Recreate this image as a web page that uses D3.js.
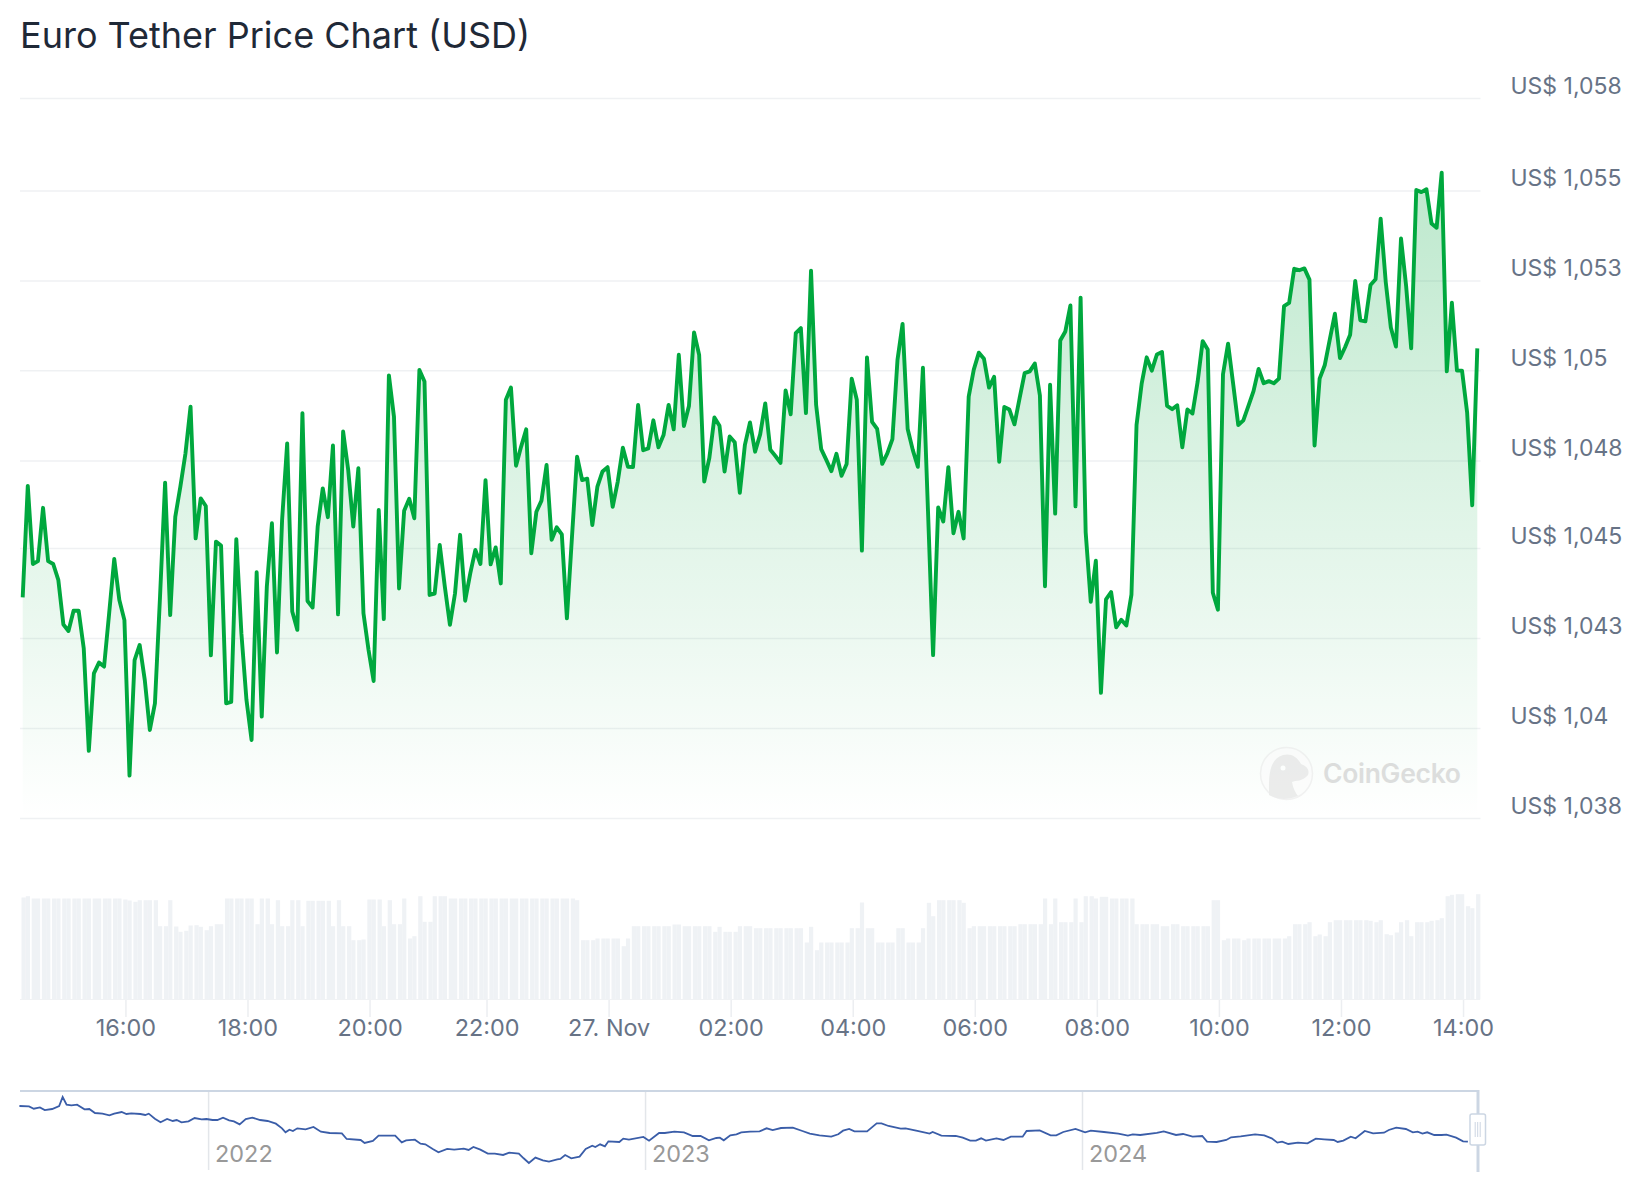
<!DOCTYPE html>
<html>
<head>
<meta charset="utf-8">
<title>Euro Tether Price Chart (USD)</title>
<script src="https://cdn.jsdelivr.net/npm/d3@7"></script>
<style>
  html, body { margin: 0; background: #fff; }
  svg { display: block; font-family: Inter, sans-serif; }
</style>
</head>
<body>
<div id="chart"></div>
<script>
// 5 minute prices
var prices = [
  1.04364,1.04674,1.04457,1.04465,1.04613,1.04465,1.04457,1.04413,1.04289,1.04271,
  1.04327,1.04327,1.04223,1.03938,1.04153,1.04183,1.04172,1.04320,1.04471,1.04357,
  1.04301,1.03869,1.04190,1.04232,1.04135,1.03996,1.04070,1.04366,1.04683,1.04315,
  1.04588,1.04672,1.04764,1.04894,1.04528,1.04639,1.04618,1.04203,1.04519,1.04508,
  1.04070,1.04074,1.04526,1.04264,1.04079,1.03968,1.04434,1.04033,1.04394,1.04570,
  1.04211,1.04579,1.04792,1.04325,1.04274,1.04876,1.04354,1.04336,1.04561,1.04667,
  1.04587,1.04786,1.04317,1.04825,1.04718,1.04561,1.04723,1.04320,1.04218,1.04132,
  1.04607,1.04304,1.04981,1.04866,1.04389,1.04605,1.04638,1.04584,1.04996,1.04964,
  1.04371,1.04375,1.04510,1.04394,1.04288,1.04375,1.04538,1.04355,1.04431,1.04496,
  1.04457,1.04690,1.04456,1.04503,1.04403,1.04913,1.04947,1.04730,1.04783,1.04831,
  1.04487,1.04602,1.04633,1.04732,1.04524,1.04559,1.04539,1.04306,1.04533,1.04755,
  1.04690,1.04694,1.04565,1.04672,1.04714,1.04726,1.04616,1.04686,1.04780,1.04727,
  1.04726,1.04899,1.04773,1.04778,1.04856,1.04781,1.04815,1.04899,1.04831,1.05038,
  1.04840,1.04896,1.05100,1.05038,1.04686,1.04751,1.04864,1.04841,1.04714,1.04811,
  1.04795,1.04655,1.04788,1.04850,1.04769,1.04817,1.04903,1.04774,1.04757,1.04738,
  1.04939,1.04873,1.05098,1.05112,1.04876,1.05272,1.04899,1.04776,1.04746,1.04715,
  1.04763,1.04702,1.04735,1.04972,1.04913,1.04494,1.05031,1.04852,1.04832,1.04735,
  1.04764,1.04804,1.05024,1.05124,1.04832,1.04774,1.04727,1.05002,1.04603,1.04204,
  1.04614,1.04575,1.04726,1.04542,1.04602,1.04528,1.04922,1.04997,1.05044,1.05027,
  1.04947,1.04977,1.04741,1.04893,1.04886,1.04845,1.04917,1.04987,1.04992,1.05014,
  1.04925,1.04395,1.04955,1.04597,1.05078,1.05103,1.05175,1.04617,1.05197,1.04545,
  1.04352,1.04466,1.04099,1.04359,1.04379,1.04281,1.04302,1.04286,1.04372,1.04843,
  1.04957,1.05031,1.04994,1.05039,1.05046,1.04896,1.04887,1.04898,1.04781,1.04886,
  1.04875,1.04962,1.05076,1.05053,1.04377,1.04330,1.04984,1.05069,1.04957,1.04843,
  1.04856,1.04896,1.04937,1.04999,1.04959,1.04965,1.04959,1.04972,1.05173,1.05182,
  1.05277,1.05273,1.05278,1.05247,1.04786,1.04972,1.05009,1.05081,1.05152,1.05029,
  1.05059,1.05094,1.05243,1.05134,1.05131,1.05232,1.05248,1.05416,1.05240,1.05114,
  1.05061,1.05361,1.05230,1.05056,1.05496,1.05490,1.05498,1.05403,1.05391,1.05544,
  1.04992,1.05183,1.04994,1.04994,1.04878,1.04620,1.05056
];

// volume per point, no axis in the picture so the unit is arbitrary
var volumes = [
  102,103.3,101,101,101,101,101,101,101,101,
  101,101,101,101,101,101,101,101,101,101,
  100,99,97.7,99.3,99.3,99.3,99.3,73.3,73.3,99.3,
  73,67.7,68.7,74,74.3,72.7,69.3,73.3,75.3,75.3,
  101,101,101,101,101,101,75.3,101,101,75.3,
  99.3,73.3,73.3,99.3,99.3,73.3,98.7,98.7,98.7,98.7,
  98.7,73.3,99.3,73.3,73.3,59.3,59.3,60,100,100,
  100,73.3,99.3,75.3,75.3,101,61,63.3,103.3,77.7,
  77.7,103.3,103.3,103.3,101,101,101,101,101,101,
  101,101,101,101,101,101,101,101,101,101,
  101,101,101,101,101,101,101,101,101,99.3,
  59.3,59.3,59.3,61,61,61,61,61,53.3,61,
  73.3,73.3,73.3,73.3,73.3,73.3,73.3,73.3,75,75,
  73.3,73.3,73.3,73.3,73.3,73.3,67.7,72.7,67.7,67.7,
  67.7,73.3,73.3,73.3,71.3,71.3,71.3,71.3,71.3,71.3,
  71.3,71.3,71.3,71.3,57,72.7,49.3,57,57,57,
  57,57,57,71.3,71.3,97,71.3,71.3,57,57,
  57,57,71.3,71.3,57,57,57,71.3,96.7,83.3,
  99.3,99.3,99.3,99.3,99.3,96.7,71.3,73.3,73.3,73.3,
  73.3,73.3,73.3,73.3,73.3,73.3,75.3,75.3,75.3,75.3,
  75.3,101,75.3,101,77.3,77.3,77.3,101,77.3,103.3,
  103.3,101,102.7,102.7,101,101,101,101,101,75.3,
  75.3,75.3,75.3,75.3,73.3,73.3,75.3,75.3,73.3,73.3,
  73.3,73.3,73.3,73.3,99.3,99.3,59.3,61,61,61,
  59.3,61,61,61,61,61,61,61,61,63.3,
  75.3,75.3,75.3,77.3,63.3,65,63.3,77.3,79.3,79.3,
  79.3,79.3,79.3,79.3,79.3,78.7,77.3,79.3,65.3,64.3,
  67,77.3,79.3,63.3,77.3,77.3,77.3,78.7,79.3,81.3,
  103.3,104.7,105.3,105.3,93.3,91.3,105.3
];

var priceTicks = [1.0375, 1.04, 1.0425, 1.045, 1.04743, 1.04994, 1.05243, 1.05493, 1.0575];
var priceLabels = ["US$ 1,038", "US$ 1,04", "US$ 1,043", "US$ 1,045", "US$ 1,048", "US$ 1,05", "US$ 1,053", "US$ 1,055", "US$ 1,058"];

// the time axis is ordinal, so ticks are given as point numbers
var timeTickIndex = [20, 44, 68, 91, 115, 139, 163, 187, 211, 235, 259, 283];
var timeTickLabels = ["16:00", "18:00", "20:00", "22:00", "27. Nov", "02:00", "04:00", "06:00", "08:00", "10:00", "12:00", "14:00"];

// navigator: decimal year and price
var navYears = [
  2021.567,2021.589,2021.600,2021.614,2021.625,2021.642,2021.658,2021.666,2021.675,2021.686,
  2021.699,2021.716,2021.727,2021.740,2021.757,2021.773,2021.784,2021.801,2021.812,2021.823,
  2021.844,2021.855,2021.863,2021.877,2021.890,2021.905,2021.918,2021.927,2021.938,2021.954,
  2021.968,2021.984,2021.995,2022.009,2022.020,2022.033,2022.047,2022.058,2022.071,2022.085,
  2022.100,2022.118,2022.135,2022.154,2022.168,2022.176,2022.185,2022.193,2022.203,2022.222,
  2022.240,2022.257,2022.277,2022.305,2022.316,2022.348,2022.357,2022.376,2022.389,2022.427,
  2022.442,2022.452,2022.472,2022.485,2022.496,2022.513,2022.526,2022.546,2022.562,2022.584,
  2022.595,2022.606,2022.622,2022.639,2022.655,2022.674,2022.688,2022.710,2022.721,2022.733,
  2022.748,2022.765,2022.779,2022.798,2022.805,2022.816,2022.830,2022.849,2022.863,2022.878,
  2022.885,2022.896,2022.907,2022.915,2022.940,2022.949,2022.962,2022.995,2023.008,2023.031,
  2023.044,2023.066,2023.088,2023.108,2023.126,2023.145,2023.162,2023.170,2023.179,2023.194,
  2023.208,2023.219,2023.239,2023.261,2023.277,2023.291,2023.310,2023.337,2023.359,2023.376,
  2023.398,2023.425,2023.441,2023.452,2023.466,2023.478,2023.507,2023.529,2023.540,2023.556,
  2023.584,2023.595,2023.622,2023.650,2023.657,2023.677,2023.710,2023.726,2023.743,2023.756,
  2023.768,2023.779,2023.803,2023.819,2023.836,2023.863,2023.872,2023.902,2023.927,2023.940,
  2023.956,2023.984,2024.006,2024.019,2024.049,2024.082,2024.104,2024.115,2024.132,2024.170,
  2024.186,2024.214,2024.230,2024.252,2024.274,2024.285,2024.307,2024.329,2024.340,2024.362,
  2024.395,2024.416,2024.433,2024.446,2024.457,2024.471,2024.493,2024.515,2024.534,2024.553,
  2024.575,2024.584,2024.597,2024.614,2024.625,2024.646,2024.665,2024.690,2024.701,2024.718,
  2024.740,2024.756,2024.767,2024.778,2024.789,2024.805,2024.822,2024.833,2024.855,2024.871,
  2024.882
];
var navPrices = [
  1.175,1.1738,1.165,1.17,1.16,1.1638,1.175,1.2088,1.18,1.1775,
  1.18,1.1625,1.1638,1.1488,1.1463,1.14,1.1463,1.1525,1.145,1.1475,
  1.145,1.1413,1.1463,1.1275,1.1138,1.1263,1.1188,1.1225,1.1138,1.1175,
  1.13,1.125,1.1263,1.1225,1.1225,1.1313,1.1213,1.1175,1.1063,1.1263,
  1.1313,1.1225,1.1188,1.1088,1.0913,1.0763,1.0863,1.0813,1.0913,1.0875,
  1.0963,1.0788,1.0738,1.0725,1.0513,1.0475,1.0363,1.0438,1.0638,1.0638,
  1.0388,1.0463,1.0488,1.0338,1.0313,1.0138,1.0013,1.0138,1.0113,1.015,
  1.01,1.0213,1.0113,0.9963,0.9963,0.9913,1.0,0.9963,0.9788,0.9613,
  0.9813,0.9713,0.9663,0.975,0.9763,0.9913,0.9788,0.985,1.0138,1.0263,
  1.0213,1.0313,1.0238,1.0425,1.04,1.0525,1.0488,1.0588,1.045,1.0738,
  1.0738,1.0788,1.0763,1.0625,1.0625,1.0463,1.055,1.0563,1.0463,1.065,
  1.0688,1.0763,1.0788,1.08,1.0913,1.085,1.0925,1.0938,1.0813,1.0713,
  1.065,1.06,1.0688,1.0825,1.0888,1.08,1.08,1.11,1.11,1.10,
  1.09,1.0913,1.0813,1.0713,1.0775,1.0638,1.0625,1.0563,1.045,1.045,
  1.0538,1.045,1.0538,1.0475,1.06,1.06,1.0813,1.0838,1.065,1.065,
  1.0775,1.0888,1.0763,1.0825,1.0775,1.0713,1.0638,1.0688,1.0663,1.0738,
  1.08,1.0663,1.07,1.06,1.0625,1.0413,1.04,1.0475,1.0575,1.0613,
  1.0688,1.065,1.0538,1.0375,1.0413,1.0325,1.0375,1.035,1.0525,1.05,
  1.0475,1.04,1.045,1.06,1.0538,1.0813,1.0725,1.075,1.085,1.0938,
  1.0888,1.0763,1.0788,1.0713,1.0763,1.0663,1.0663,1.0675,1.0563,1.0425,
  1.0413
];
var navYearTicks = [2022, 2023, 2024];

var width = 1644, height = 1200;
var lineColor = "#00a83e", gridColor = "#eff1f3", barColor = "#eff2f5",
    textColor = "#677386", navColor = "#3a5da8", navBorder = "#ccd6e3";

var svg = d3.select("#chart").append("svg")
    .attr("width", width)
    .attr("height", height);

// scales
var x = d3.scaleLinear().domain([0, prices.length - 1]).range([22.7, 1477.3]);
var y = d3.scaleLinear().domain([1.0375, 1.0575]).range([818.5, 98.5]);
var yVol = d3.scaleLinear().domain([0, 105.3]).range([999.5, 894.2]);
var xNav = d3.scaleLinear().domain([2022, 2024]).range([208.6, 1082.5]);
var yNav = d3.scaleLinear().domain([0.96, 1.21]).range([1163.3, 1096.7]);

svg.append("text")
    .attr("x", 20)
    .attr("y", 47.5)
    .attr("font-size", 36)
    .attr("fill", "#1f2937")
    .text("Euro Tether Price Chart (USD)");

// horizontal grid and price labels
svg.append("g").selectAll("line")
    .data(priceTicks)
    .enter().append("line")
    .attr("x1", 20)
    .attr("x2", 1480.5)
    .attr("y1", function(d) { return y(d); })
    .attr("y2", function(d) { return y(d); })
    .attr("stroke", gridColor)
    .attr("stroke-width", 1.5);

svg.append("g").selectAll("text")
    .data(priceTicks)
    .enter().append("text")
    .attr("x", 1510.5)
    .attr("y", function(d) { return y(d) - 5; })
    .attr("font-size", 23)
    .attr("fill", textColor)
    .text(function(d, i) { return priceLabels[i]; });

// gradient area under the line
var defs = svg.append("defs");
var grad = defs.append("linearGradient")
    .attr("id", "areaFill")
    .attr("gradientUnits", "userSpaceOnUse")
    .attr("x1", 0).attr("x2", 0)
    .attr("y1", y(d3.max(prices))).attr("y2", y(1.0375));
grad.append("stop").attr("offset", 0).attr("stop-color", lineColor).attr("stop-opacity", 0.26);
grad.append("stop").attr("offset", 1).attr("stop-color", lineColor).attr("stop-opacity", 0);

var area = d3.area()
    .x(function(d, i) { return x(i); })
    .y0(y(1.0375))
    .y1(function(d) { return y(d); });

var line = d3.line()
    .x(function(d, i) { return x(i); })
    .y(function(d) { return y(d); });

svg.append("path")
    .datum(prices)
    .attr("d", area)
    .attr("fill", "url(#areaFill)");

// watermark
var mark = svg.append("g").attr("opacity", 0.55);
mark.append("circle")
    .attr("cx", 1286.5).attr("cy", 773.5).attr("r", 26)
    .attr("fill", "#fbfbfb").attr("stroke", "#e8e8e8").attr("stroke-width", 1.5);
mark.append("path")
    .attr("d", "M1269,795 C1269,778 1268,760 1283,755 C1290,753 1297,756 1301,764 C1306,766 1310,769 1308,775 C1302,782 1296,780 1292,782 C1293,788 1295,792 1298,796 C1288,800 1277,800 1269,795 Z")
    .attr("fill", "#dedede");
mark.append("circle")
    .attr("cx", 1283).attr("cy", 768).attr("r", 2.5)
    .attr("fill", "#fff");
mark.append("text")
    .attr("x", 1323)
    .attr("y", 783)
    .attr("font-size", 26.5)
    .attr("font-weight", 600)
    .attr("letter-spacing", -0.3)
    .attr("fill", "#c4c4c4")
    .text("CoinGecko");

svg.append("path")
    .datum(prices)
    .attr("d", line)
    .attr("fill", "none")
    .attr("stroke", lineColor)
    .attr("stroke-width", 3.9)
    .attr("stroke-linejoin", "round");

// volume bars, they come out in pairs with a thin gap in the original
svg.append("g").selectAll("rect")
    .data(volumes)
    .enter().append("rect")
    .attr("x", function(d, i) { return i % 2 ? x(i) - 2 : x(i) - 1.2; })
    .attr("width", function(d, i) { return i % 2 ? 4.2 : 4.3; })
    .attr("y", function(d) { return yVol(d); })
    .attr("height", function(d) { return yVol(0) - yVol(d); })
    .attr("fill", barColor);

svg.append("line")
    .attr("x1", 20).attr("x2", 1480)
    .attr("y1", 999.5).attr("y2", 999.5)
    .attr("stroke", "#f0f2f4");

// time axis
var timeTicks = svg.append("g").selectAll("g")
    .data(timeTickIndex)
    .enter().append("g")
    .attr("transform", function(d) { return "translate(" + (x(d) + 1.5) + ",0)"; });

timeTicks.append("line")
    .attr("y1", 1000).attr("y2", 1017)
    .attr("stroke", "#eceef1")
    .attr("stroke-width", 1.5);

timeTicks.append("text")
    .attr("y", 1036)
    .attr("text-anchor", "middle")
    .attr("font-size", 23.4)
    .attr("fill", textColor)
    .text(function(d, i) { return timeTickLabels[i]; });

// navigator
var navLine = d3.line()
    .x(function(d, i) { return xNav(navYears[i]); })
    .y(function(d) { return yNav(d); });

var navGrid = svg.append("g").selectAll("g")
    .data(navYearTicks)
    .enter().append("g")
    .attr("transform", function(d) { return "translate(" + xNav(d) + ",0)"; });

navGrid.append("line")
    .attr("y1", 1091).attr("y2", 1170)
    .attr("stroke", "#e3e6ea")
    .attr("stroke-width", 1.5);

navGrid.append("text")
    .attr("x", 6.5)
    .attr("y", 1162)
    .attr("font-size", 23.4)
    .attr("fill", "#999")
    .text(function(d) { return d; });

svg.append("line")
    .attr("x1", 20).attr("x2", 1479)
    .attr("y1", 1091).attr("y2", 1091)
    .attr("stroke", navBorder)
    .attr("stroke-width", 2);

svg.append("path")
    .datum(navPrices)
    .attr("d", navLine)
    .attr("fill", "none")
    .attr("stroke", navColor)
    .attr("stroke-width", 1.8);

svg.append("line")
    .attr("x1", 1478).attr("x2", 1478)
    .attr("y1", 1090).attr("y2", 1172)
    .attr("stroke", navBorder)
    .attr("stroke-width", 3);

svg.append("rect")
    .attr("x", 1470).attr("y", 1114)
    .attr("width", 15.5).attr("height", 31)
    .attr("rx", 2)
    .attr("fill", "#fff")
    .attr("stroke", navBorder)
    .attr("stroke-width", 1.5);

svg.append("g").selectAll("line")
    .data([-2.5, 0, 2.5])
    .enter().append("line")
    .attr("x1", function(d) { return 1477.7 + d; })
    .attr("x2", function(d) { return 1477.7 + d; })
    .attr("y1", 1122).attr("y2", 1137)
    .attr("stroke", navBorder);
</script>
</body>
</html>
